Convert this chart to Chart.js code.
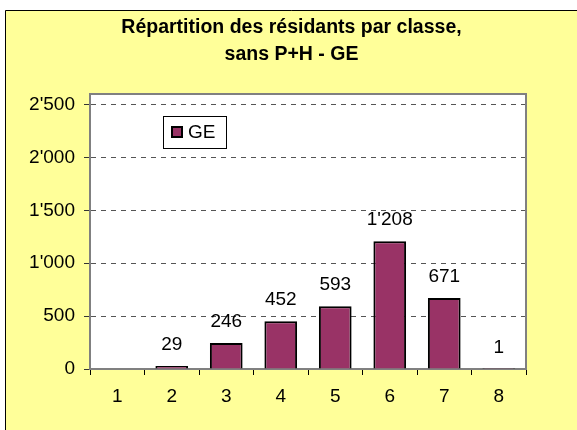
<!DOCTYPE html>
<html>
<head>
<meta charset="utf-8">
<script src="https://cdn.jsdelivr.net/npm/chart.js@4/dist/chart.umd.min.js"></script>
<style>
  html, body { margin: 0; padding: 0; background: #ffffff; }
  #wrap { width: 577px; height: 430px; }
</style>
</head>
<body>
<div id="wrap"><canvas id="graphique" width="577" height="430"></canvas></div>
<script>
const classes = ["1", "2", "3", "4", "5", "6", "7", "8"];
const residentsGE = [null, 29, 246, 452, 593, 1208, 671, 1];
const yTicks = [0, 500, 1000, 1500, 2000, 2500];
const titre = ["Répartition des résidants par classe,", "sans P+H - GE"];
const serie = "GE";

const police = "'Liberation Sans', Arial, sans-serif";

// apostrophe comme séparateur de milliers (format suisse)
function fmt(v) {
  return String(v).replace(/\B(?=(\d{3})+(?!\d))/g, "'");
}

const fondPlugin = {
  id: "fond",
  beforeDraw(chart) {
    const ctx = chart.ctx;
    const a = chart.chartArea;
    ctx.save();
    ctx.fillStyle = "#ffffff";
    ctx.fillRect(0, 0, chart.width, chart.height);
    ctx.fillStyle = "#ffff99";
    ctx.fillRect(5, 10, chart.width, chart.height);
    ctx.strokeStyle = "#000000";
    ctx.lineWidth = 1;
    ctx.beginPath();
    ctx.moveTo(5.5, chart.height + 2);
    ctx.lineTo(5.5, 10.5);
    ctx.lineTo(chart.width + 2, 10.5);
    ctx.stroke();
    ctx.fillStyle = "#ffffff";
    ctx.fillRect(a.left, a.top, a.right - a.left, a.bottom - a.top);
    ctx.restore();
  },
  beforeDatasetsDraw(chart) {
    const ctx = chart.ctx;
    const a = chart.chartArea;
    ctx.save();
    ctx.strokeStyle = "#808080";
    ctx.lineWidth = 2;
    ctx.strokeRect(a.left, a.top, a.right - a.left, a.bottom - a.top);
    ctx.restore();
  },
  afterDraw(chart) {
    const ctx = chart.ctx;
    const meta = chart.getDatasetMeta(0);
    ctx.save();
    // étiquettes de valeurs
    ctx.font = "19px " + police;
    ctx.fillStyle = "#000000";
    ctx.textAlign = "center";
    ctx.textBaseline = "alphabetic";
    meta.data.forEach((bar, i) => {
      const v = residentsGE[i];
      if (v === null) return;
      ctx.fillText(fmt(v), bar.x, bar.y - 16);
    });
    // légende
    ctx.fillStyle = "#ffffff";
    ctx.fillRect(163.5, 116.5, 63, 32);
    ctx.strokeStyle = "#000000";
    ctx.lineWidth = 1;
    ctx.strokeRect(163.5, 116.5, 63, 32);
    ctx.fillStyle = "#993366";
    ctx.fillRect(171, 126, 12, 12);
    ctx.lineWidth = 2;
    ctx.strokeRect(172, 127, 10, 10);
    ctx.fillStyle = "#000000";
    ctx.textAlign = "left";
    ctx.textBaseline = "middle";
    ctx.fillText(serie, 188, 133);
    ctx.restore();
  }
};

new Chart(document.getElementById("graphique"), {
  type: "bar",
  data: {
    labels: classes,
    datasets: [{
      label: serie,
      data: residentsGE,
      backgroundColor: "#993366",
      borderColor: "#000000",
      borderWidth: 2,
      barPercentage: 0.6,
      categoryPercentage: 1.0
    }]
  },
  options: {
    responsive: false,
    animation: false,
    layout: { padding: { left: 6, right: 0, top: 0, bottom: 0 } },
    plugins: {
      legend: { display: false },
      tooltip: { enabled: false },
      title: {
        display: true,
        text: titre,
        color: "#000000",
        font: { family: police, size: 19.5, weight: "bold", lineHeight: 27 / 19.5 },
        padding: { top: 14.5, bottom: 25.5 }
      }
    },
    scales: {
      x: {
        offset: true,
        grid: {
          offset: true,
          drawOnChartArea: false,
          color: "#000000",
          tickLength: 6
        },
        border: { color: "#000000", width: 1 },
        ticks: {
          color: "#000000",
          font: { family: police, size: 19 },
          padding: 10
        },
        afterFit(scale) { scale.height = 61; }
      },
      y: {
        min: 0,
        max: 2600,
        afterBuildTicks(scale) {
          scale.ticks = yTicks.map(v => ({ value: v }));
        },
        grid: {
          color: "#555555",
          tickLength: 6,
          tickBorderDash: [],
          tickColor: "#333333"
        },
        border: { color: "#606060", width: 2, dash: [5, 5] },
        ticks: {
          color: "#000000",
          font: { family: police, size: 19 },
          padding: 9,
          callback: (v) => fmt(v)
        },
        afterFit(scale) { scale.width = 84; }
      },
      marge: {
        type: "linear",
        position: "right",
        display: true,
        grid: { display: false },
        border: { display: false },
        ticks: { display: false },
        afterFit(scale) { scale.width = 51; }
      }
    }
  },
  plugins: [fondPlugin]
});
</script>
</body>
</html>
